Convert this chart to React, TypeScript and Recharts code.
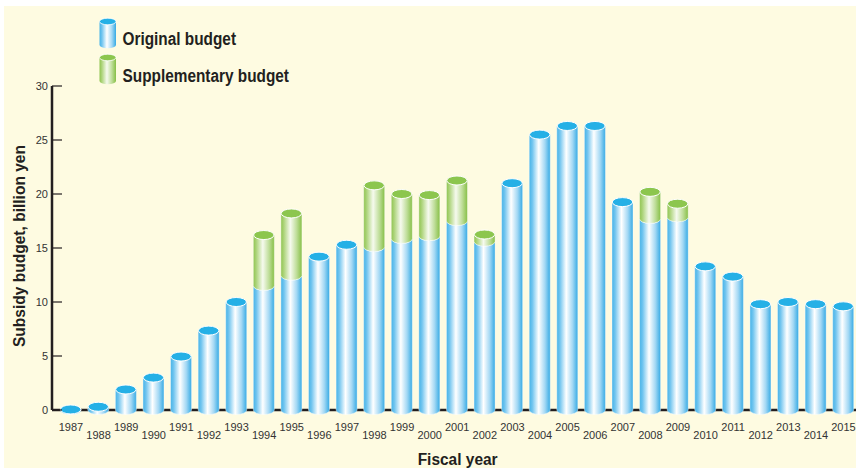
import React from 'react';
import { BarChart, Bar, XAxis, YAxis, Legend } from 'recharts';

const years = [
  '1987', '1988', '1989', '1990', '1991', '1992', '1993', '1994', '1995', '1996',
  '1997', '1998', '1999', '2000', '2001', '2002', '2003', '2004', '2005', '2006',
  '2007', '2008', '2009', '2010', '2011', '2012', '2013', '2014', '2015',
];

const originalBudget = [
  0.05, 0.3, 1.9, 3.0, 4.95, 7.35, 10.0, 11.5, 12.45, 14.2,
  15.3, 15.1, 15.85, 16.1, 17.5, 15.6, 21.0, 25.5, 26.3, 26.3,
  19.25, 17.7, 17.85, 13.3, 12.35, 9.8, 10.0, 9.8, 9.6,
];

const supplementaryBudget = [
  0, 0, 0, 0, 0, 0, 0, 4.7, 5.75, 0,
  0, 5.7, 4.15, 3.8, 3.75, 0.65, 0, 0, 0, 0,
  0, 2.5, 1.25, 0, 0, 0, 0, 0, 0,
];

const yTicks = [0, 5, 10, 15, 20, 25, 30];

const seriesNames = ['Original budget', 'Supplementary budget'];

const data = years.map((year, i) => ({
  year,
  original: originalBudget[i],
  supplementary: supplementaryBudget[i],
}));

const FONT = '"Liberation Sans", Arial, Helvetica, sans-serif';
const INK = '#231F20';
const CREAM = '#FEFBE1';
const BLUE_TOP = '#25B0E6';
const GREEN_TOP = '#8CC64E';
const RY = 4.5;

const makeCylinder = (kind: 'blue' | 'green') => (props: any) => {
  const { x, y, width, height, payload } = props;
  if (x == null || y == null || width == null || height == null) return null;
  if (kind === 'green' && !(payload && payload.supplementary > 0)) return null;
  const rx = width / 2;
  const top = y;
  const bottom = y + height;
  const cx = x + rx;
  const body = `M${x},${top} L${x + width},${top} L${x + width},${bottom} A${rx},${RY} 0 0 1 ${x},${bottom} Z`;
  return (
    <g>
      <path d={body} fill={`url(#cyl-${kind})`} stroke="#ffffff" strokeWidth={0.6} strokeOpacity={0.7} />
      <ellipse
        cx={cx}
        cy={top}
        rx={rx - 0.3}
        ry={RY}
        fill={kind === 'blue' ? BLUE_TOP : GREEN_TOP}
        stroke="#ffffff"
        strokeWidth={1}
      />
    </g>
  );
};

const BlueCylinder = makeCylinder('blue');
const GreenCylinder = makeCylinder('green');

const XTick = (props: any) => {
  const { x, y, payload, index } = props;
  const dy = index % 2 === 0 ? 20.5 : 29;
  return (
    <text x={x} y={y + dy} textAnchor="middle" fontSize={11} fill="#333333" fontFamily={FONT}>
      {payload.value}
    </text>
  );
};

const YTick = (props: any) => {
  const { x, y, payload } = props;
  return (
    <g>
      <line x1={x} x2={x + 10} y1={y} y2={y} stroke={INK} strokeWidth={1.2} />
      <text x={x - 4} y={y + 4} textAnchor="end" fontSize={11} fill="#333333" fontFamily={FONT}>
        {payload.value}
      </text>
    </g>
  );
};

const YLabel = (props: any) => {
  const vb = props.viewBox || { x: 0, y: 0, width: 0, height: 0 };
  const lx = vb.x + 25;
  const ly = vb.y + vb.height / 2 - 2;
  return (
    <text
      x={lx}
      y={ly}
      transform={`rotate(-90, ${lx}, ${ly})`}
      textAnchor="middle"
      fontSize={16}
      fontWeight="bold"
      fill={INK}
      fontFamily={FONT}
      textLength={202}
      lengthAdjust="spacingAndGlyphs"
    >
      Subsidy budget, billion yen
    </text>
  );
};

const XLabel = (props: any) => {
  const vb = props.viewBox || { x: 0, y: 0, width: 0, height: 0 };
  const lx = vb.x + vb.width / 2 + 3;
  const ly = vb.y + 54.5;
  return (
    <text
      x={lx}
      y={ly}
      textAnchor="middle"
      fontSize={16}
      fontWeight="bold"
      fill={INK}
      fontFamily={FONT}
      textLength={80}
      lengthAdjust="spacingAndGlyphs"
    >
      Fiscal year
    </text>
  );
};

const LegendContent = () => (
  <svg width={320} height={92} style={{ display: 'block' }}>
    <defs>
      <linearGradient id="leg-blue" x1="0" y1="0" x2="1" y2="0">
        <stop offset="0" stopColor="#45B3E8" />
        <stop offset="0.15" stopColor="#72C5EF" />
        <stop offset="0.45" stopColor="#FFFFFF" />
        <stop offset="0.75" stopColor="#A3D8F4" />
        <stop offset="1" stopColor="#35AAE4" />
      </linearGradient>
      <linearGradient id="leg-green" x1="0" y1="0" x2="1" y2="0">
        <stop offset="0" stopColor="#8FC44F" />
        <stop offset="0.15" stopColor="#AFD57E" />
        <stop offset="0.45" stopColor="#F6FAEE" />
        <stop offset="0.75" stopColor="#BEDD98" />
        <stop offset="1" stopColor="#86BF45" />
      </linearGradient>
    </defs>
    {[0, 1].map((i) => {
      const x = 99.5;
      const w = 16.5;
      const top = i === 0 ? 21.5 : 57.5;
      const bottom = i === 0 ? 45 : 81;
      const ry = 3.3;
      const body = `M${x},${top} L${x + w},${top} L${x + w},${bottom} A${w / 2},${ry} 0 0 1 ${x},${bottom} Z`;
      return (
        <g key={i}>
          <path d={body} fill={i === 0 ? 'url(#leg-blue)' : 'url(#leg-green)'} />
          <ellipse
            cx={x + w / 2}
            cy={top}
            rx={w / 2}
            ry={ry}
            fill={i === 0 ? BLUE_TOP : GREEN_TOP}
            stroke="#ffffff"
            strokeWidth={0.8}
          />
          <text
            x={122.5}
            y={i === 0 ? 45 : 81.5}
            fontSize={18}
            fontWeight="bold"
            fill={INK}
            fontFamily={FONT}
            textLength={i === 0 ? 113.5 : 166.5}
            lengthAdjust="spacingAndGlyphs"
          >
            {seriesNames[i]}
          </text>
        </g>
      );
    })}
  </svg>
);

export default function App() {
  return (
    <div
      style={{
        position: 'fixed',
        left: 0,
        top: 0,
        width: 856,
        height: 468,
        overflow: 'hidden',
        background: '#ffffff',
      }}
    >
      <div style={{ position: 'absolute', left: 4, top: 6, right: 0, bottom: 0, background: CREAM }} />
      <div style={{ position: 'absolute', left: 0, top: 0 }}>
        <BarChart
          width={860}
          height={468}
          data={data}
          margin={{ top: 86, right: 2.7, left: 0, bottom: 28 }}
          barSize={21}
        >
          <defs>
            <linearGradient id="cyl-blue" x1="0" y1="0" x2="1" y2="0">
              <stop offset="0" stopColor="#45B3E8" />
              <stop offset="0.15" stopColor="#72C5EF" />
              <stop offset="0.45" stopColor="#FFFFFF" />
              <stop offset="0.75" stopColor="#A3D8F4" />
              <stop offset="1" stopColor="#35AAE4" />
            </linearGradient>
            <linearGradient id="cyl-green" x1="0" y1="0" x2="1" y2="0">
              <stop offset="0" stopColor="#8FC44F" />
              <stop offset="0.15" stopColor="#AFD57E" />
              <stop offset="0.45" stopColor="#F6FAEE" />
              <stop offset="0.75" stopColor="#BEDD98" />
              <stop offset="1" stopColor="#86BF45" />
            </linearGradient>
          </defs>
          <XAxis
            dataKey="year"
            type="category"
            interval={0}
            height={30}
            padding={{ left: 5.2, right: 0 }}
            tickSize={0}
            tickMargin={0}
            tickLine={false}
            axisLine={{ stroke: INK, strokeWidth: 2.5 }}
            tick={<XTick />}
            label={<XLabel />}
            zIndex={100}
          />
          <YAxis
            type="number"
            domain={[0, 30]}
            ticks={yTicks}
            interval={0}
            width={52}
            tickSize={0}
            tickMargin={0}
            tickLine={false}
            axisLine={{ stroke: INK, strokeWidth: 2.5 }}
            tick={<YTick />}
            label={<YLabel />}
            zIndex={100}
          />
          <Legend
            layout="horizontal"
            verticalAlign="middle"
            align="center"
            content={<LegendContent />}
            wrapperStyle={{ position: 'absolute', left: 0, top: 0, width: 320, height: 92 }}
          />
          <Bar
            dataKey="original"
            name={seriesNames[0]}
            stackId="budget"
            fill={BLUE_TOP}
            shape={<BlueCylinder />}
            isAnimationActive={false}
            zIndex={700}
          />
          <Bar
            dataKey="supplementary"
            name={seriesNames[1]}
            stackId="budget"
            fill={GREEN_TOP}
            shape={<GreenCylinder />}
            isAnimationActive={false}
            zIndex={710}
          />
        </BarChart>
      </div>
    </div>
  );
}
